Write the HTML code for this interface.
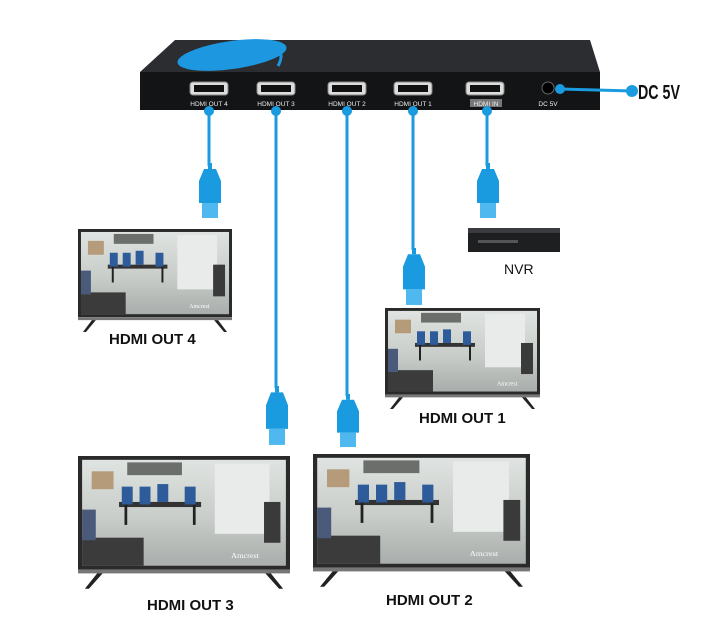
<!DOCTYPE html>
<html><head><meta charset="utf-8"><style>
body{margin:0;background:#fff;width:720px;height:637px;overflow:hidden;font-family:"Liberation Sans",sans-serif}
.lbl{position:absolute;font-weight:bold;font-size:15px;color:#111;white-space:nowrap}
</style></head><body>
<svg width="720" height="637" viewBox="0 0 720 637" style="position:absolute;left:0;top:0">
<defs>
<linearGradient id="scr" x1="0" y1="0" x2="0" y2="1">
<stop offset="0" stop-color="#dfe3e1"/><stop offset="0.55" stop-color="#c9cdc9"/><stop offset="1" stop-color="#a9adab"/></linearGradient>
<symbol id="tv" viewBox="0 0 155 105" preserveAspectRatio="none">
<rect x="0" y="0" width="155" height="89" fill="#2a2a2a"/>
<rect x="3" y="3" width="149" height="83" fill="url(#scr)"/>
<rect x="36" y="5" width="40" height="10" fill="#6c6e6c"/>
<rect x="10" y="12" width="16" height="14" fill="#b59b7a"/>
<rect x="100" y="6" width="40" height="55" fill="#e8ebea"/>
<rect x="30" y="36" width="60" height="4" fill="#333"/>
<rect x="32" y="24" width="8" height="14" fill="#2e5b9a"/>
<rect x="45" y="24" width="8" height="14" fill="#2e5b9a"/>
<rect x="58" y="22" width="8" height="14" fill="#2e5b9a"/>
<rect x="78" y="24" width="8" height="14" fill="#2e5b9a"/>
<rect x="34" y="38" width="2" height="16" fill="#222"/><rect x="84" y="38" width="2" height="16" fill="#222"/>
<rect x="136" y="36" width="12" height="32" fill="#3a3a3a"/>
<rect x="3" y="64" width="45" height="22" fill="#3b3b3b"/>
<rect x="3" y="42" width="10" height="24" fill="#4a5a7a"/>
<text x="112" y="80" font-size="6" fill="#fff" font-family="Liberation Serif">Amcrest</text>
<rect x="0" y="89" width="155" height="3" fill="#777"/>
<polygon points="14,92 18,92 8,104 5,104" fill="#222"/>
<polygon points="137,92 141,92 150,104 147,104" fill="#222"/>
</symbol>
<symbol id="con" viewBox="0 0 26 56" preserveAspectRatio="none">
<rect x="11" y="0" width="4" height="6" fill="#1a9be0"/>
<path d="M7,6 H19 L24,18 V40 H2 V18 Z" fill="#1a9be0"/>
<rect x="5" y="40" width="16" height="15" fill="#4fb9ef"/>
</symbol>
</defs>
<!-- box -->
<polygon points="175,40 590,40 600,72 140,72" fill="#2b2d30"/>
<ellipse cx="232" cy="55" rx="55" ry="14" fill="#1c97e0" transform="rotate(-8 232 55)"/>
<path d="M255,44 Q290,44 278,66" stroke="#1c97e0" stroke-width="3" fill="none"/>
<rect x="140" y="72" width="460" height="38" fill="#131416"/>
<g fill="#ddd" stroke="#888">
<rect x="190" y="82" width="38" height="13" rx="3"/><rect x="257" y="82" width="38" height="13" rx="3"/>
<rect x="328" y="82" width="38" height="13" rx="3"/><rect x="394" y="82" width="38" height="13" rx="3"/>
<rect x="466" y="82" width="38" height="13" rx="3"/></g>
<g fill="#111"><rect x="194" y="85" width="30" height="7"/><rect x="261" y="85" width="30" height="7"/><rect x="332" y="85" width="30" height="7"/><rect x="398" y="85" width="30" height="7"/><rect x="470" y="85" width="30" height="7"/></g>
<rect x="470" y="99" width="32" height="8" fill="#777"/>
<g font-size="6.5" fill="#eee" text-anchor="middle">
<text x="209" y="106">HDMI OUT 4</text><text x="276" y="106">HDMI OUT 3</text><text x="347" y="106">HDMI OUT 2</text><text x="413" y="106">HDMI OUT 1</text><text x="486" y="106">HDMI IN</text><text x="548" y="106">DC 5V</text></g>
<circle cx="548" cy="88" r="6" fill="#000" stroke="#666"/>
<!-- dc -->
<line x1="560" y1="89" x2="632" y2="91" stroke="#1a9be0" stroke-width="3"/>
<circle cx="560" cy="89" r="5" fill="#1a9be0"/><circle cx="632" cy="91" r="6" fill="#1a9be0"/>
<text x="638" y="99" font-size="20" font-weight="bold" fill="#111" font-family="Liberation Sans Narrow, Liberation Sans, sans-serif" textLength="42" lengthAdjust="spacingAndGlyphs">DC 5V</text>
<!-- cables -->
<g stroke="#1a9be0" stroke-width="3">
<line x1="209" y1="110" x2="209" y2="166"/><line x1="276" y1="110" x2="276" y2="388"/>
<line x1="347" y1="110" x2="347" y2="396"/><line x1="413" y1="110" x2="413" y2="250"/>
<line x1="487" y1="110" x2="487" y2="166"/></g>
<g fill="#1a9be0"><circle cx="209" cy="111" r="5"/><circle cx="276" cy="111" r="5"/><circle cx="347" cy="111" r="5"/><circle cx="413" cy="111" r="5"/><circle cx="487" cy="111" r="5"/></g>
<use href="#con" x="197" y="163" width="26" height="56"/>
<use href="#con" x="475" y="163" width="26" height="56"/>
<use href="#con" x="401" y="248" width="26" height="58"/>
<use href="#con" x="264" y="386" width="26" height="60"/>
<use href="#con" x="335" y="394" width="26" height="54"/>
<!-- NVR -->
<rect x="468" y="228" width="92" height="24" fill="#1e1f21"/>
<rect x="468" y="228" width="92" height="5" fill="#3a3b3e"/>
<rect x="478" y="240" width="40" height="3" fill="#555"/>
<!-- TVs -->
<use href="#tv" x="78" y="229" width="154" height="104"/>
<use href="#tv" x="385" y="308" width="155" height="102"/>
<use href="#tv" x="78" y="456" width="212" height="134"/>
<use href="#tv" x="313" y="454" width="217" height="134"/>
</svg>
<div class="lbl" style="left:109px;top:331px">HDMI OUT 4</div>
<div class="lbl" style="left:504px;top:261px;font-weight:normal;font-size:14px">NVR</div>
<div class="lbl" style="left:419px;top:410px">HDMI OUT 1</div>
<div class="lbl" style="left:147px;top:597px">HDMI OUT 3</div>
<div class="lbl" style="left:386px;top:592px">HDMI OUT 2</div>
</body></html>
